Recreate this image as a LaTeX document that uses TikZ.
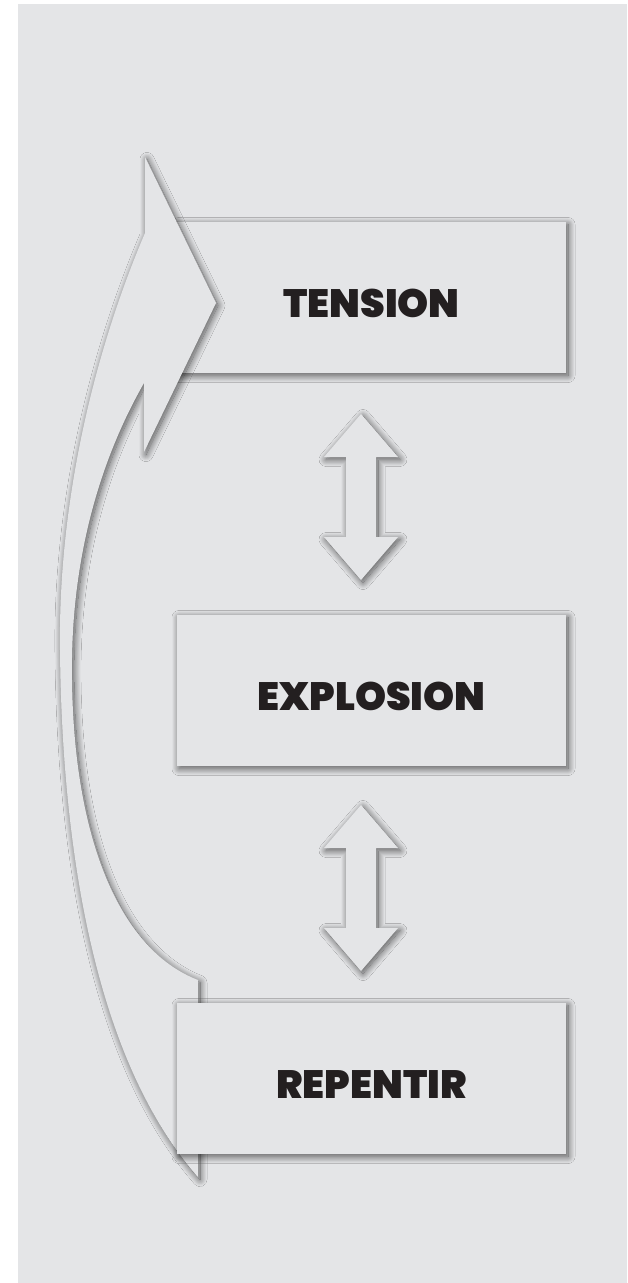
\documentclass[tikz,border=0pt]{standalone}
\usepackage{fontspec}
\newfontfamily\labelfont{Poppins Black}
\usetikzlibrary{shadows.blur}
\definecolor{panel}{HTML}{E4E5E7}
\definecolor{ink}{HTML}{231F20}
\tikzset{
  softshadow/.style={blur shadow={shadow xshift=2pt, shadow yshift=-2.5pt, shadow blur radius=7pt, shadow blur steps=24, shadow opacity=65}},
  shapefill/.style={fill=panel, softshadow},
  card/.style={rectangle, shapefill, minimum width=389pt, minimum height=151pt, inner sep=0pt,
    text height=40pt, text depth=0pt, font=\labelfont\fontsize{39.5}{40}\selectfont, text=ink},
  dblarrow/.pic={
    \path[shapefill] (0,-83) -- (37,-40) -- (15,-40) -- (15,40) -- (37,40) -- (0,83)
      -- (-37,40) -- (-15,40) -- (-15,-40) -- (-37,-40) -- cycle;
  }
}
\begin{document}
\begin{tikzpicture}[x=1pt,y=-1pt]
\useasboundingbox (0,0) rectangle (627,1283);
\fill[white] (0,0) rectangle (627,1283);
\fill[panel] (18,4) rectangle (627,1283);

\node[card] (tension) at (371.5,297.5) {TENSION};

\path[shapefill] (145,233) -- (145,157) -- (216,303) -- (144,452) -- (144,383)
  .. controls (100,460) and (70,560) .. (72,680)
  .. controls (74,840) and (120,950) .. (198,980)
  -- (198,1177)
  .. controls (95,1060) and (62,850) .. (60,650)
  .. controls (58,500) and (95,350) .. (145,233) -- cycle;

\node[card] (explosion) at (371.5,690.5) {EXPLOSION};
\node[card] (repentir) at (371.5,1078.5) {REPENTIR};

\pic at (361,497) {dblarrow};
\pic at (361,888) {dblarrow};
\end{tikzpicture}
\end{document}
